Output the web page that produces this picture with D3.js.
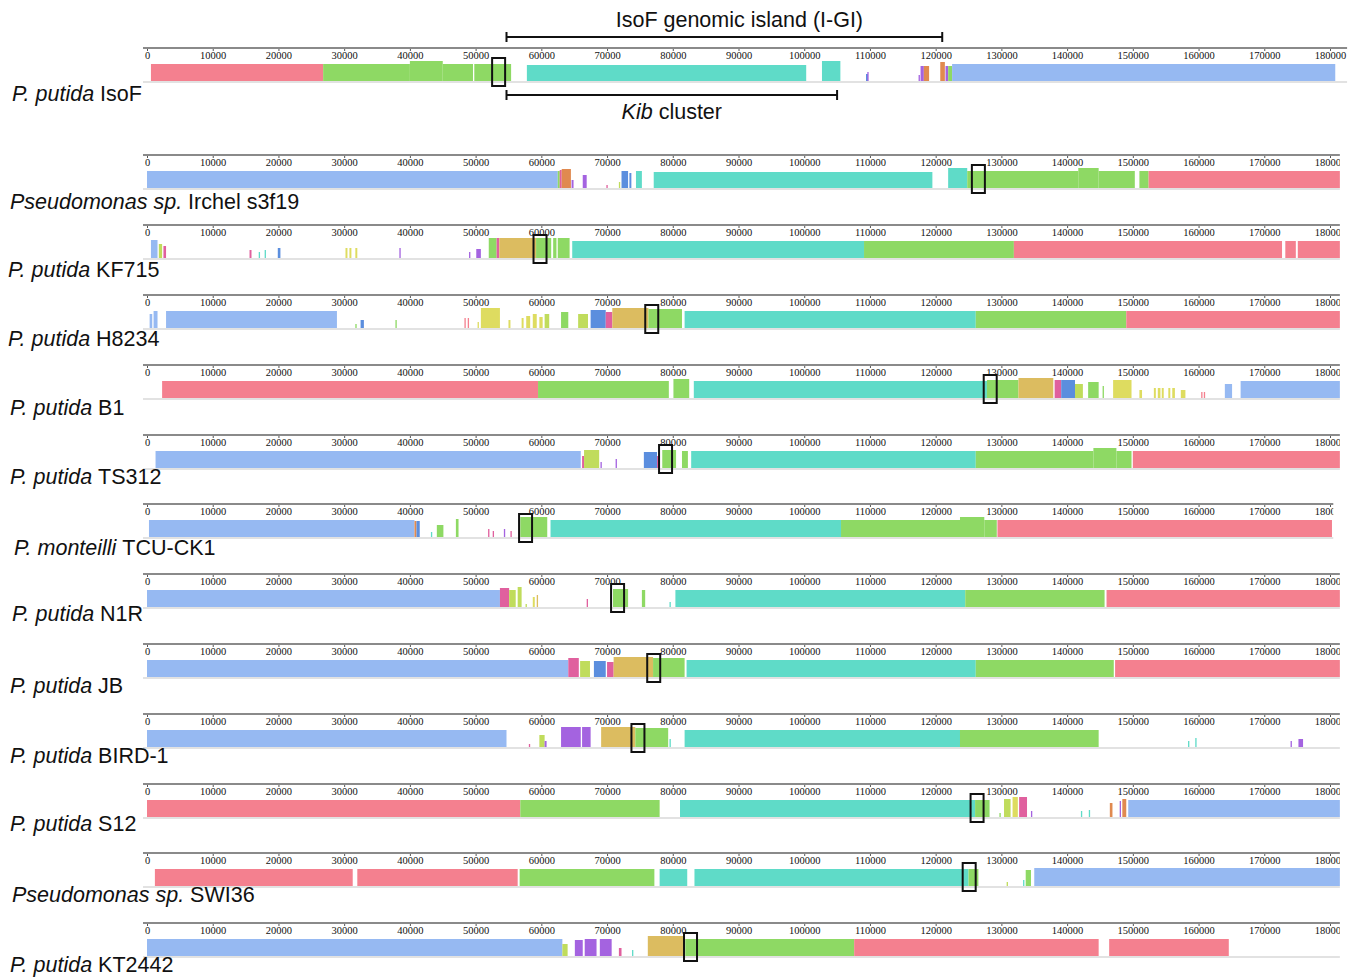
<!DOCTYPE html>
<meta charset="utf-8">
<script src="https://d3js.org/d3.v7.min.js"></script>
<style>
  body { margin: 0; background: #fff; }
  .tick text { font-family: "Liberation Serif", serif; font-size: 10.5px; fill: #111; }
  .tick line { stroke: #555; }
  .lab { font-family: "Liberation Sans", Arial, sans-serif; font-size: 21.5px; fill: #111; }
</style>
<body>
<div id="chart"></div>
<script>
// strain names: [italic part, plain part]
var strains = [
  ["P. putida", "IsoF"],
  ["Pseudomonas sp.", "Irchel s3f19"],
  ["P. putida", "KF715"],
  ["P. putida", "H8234"],
  ["P. putida", "B1"],
  ["P. putida", "TS312"],
  ["P. monteilli", "TCU-CK1"],
  ["P. putida", "N1R"],
  ["P. putida", "JB"],
  ["P. putida", "BIRD-1"],
  ["P. putida", "S12"],
  ["Pseudomonas sp.", "SWI36"],
  ["P. putida", "KT2442"]
];

// length shown of each sequence (bp)
var seqLength = [182600, 181500, 181500, 181500, 181500, 181500, 180500, 181500, 181500, 181500, 181500, 181500, 181500];

var tickValues = [0, 10000, 20000, 30000, 40000, 50000, 60000, 70000, 80000, 90000,
  100000, 110000, 120000, 130000, 140000, 150000, 160000, 170000, 180000];

// locally collinear blocks: [lcb, start, end, similarity]
var blocksIsoF = [
  ["r", 600, 26800, .85], ["g", 26800, 40000, .85], ["g", 40000, 45000, 1], ["g", 45000, 49600, .85],
  ["g", 49800, 55400, .85], ["t", 57800, 100300, .8], ["t", 102700, 105500, 1],
  ["d", 109400, 109700, .35], ["p", 109600, 109800, .45], ["p", 117400, 117600, .3],
  ["p", 117700, 118200, .75], ["o", 118200, 119000, .75], ["o", 120700, 121400, .95],
  ["p", 121500, 121900, .75], ["g", 121900, 122500, .75], ["b", 122500, 180800, .85]
];
var blocksIrchel = [
  ["b", 0, 62500, .85], ["g", 62500, 62800, .85], ["m", 62800, 63100, .9], ["o", 63100, 64500, .95],
  ["p", 64600, 64900, .4], ["p", 66300, 66900, .65], ["m", 69900, 70100, .15], ["l", 71800, 72000, .3],
  ["d", 72200, 73200, .85], ["d", 73400, 73700, .75], ["t", 74400, 75300, .85], ["t", 77100, 119500, .8],
  ["t", 121900, 124800, 1], ["g", 124800, 141700, .85], ["g", 141700, 144800, 1], ["g", 144800, 150300, .85],
  ["g", 151000, 152400, .85], ["r", 152400, 181500, .85]
];
var blocksKF715 = [
  ["b", 600, 1600, .9], ["l", 1800, 2300, .7], ["m", 2500, 2900, .6], ["m", 15600, 15900, .4],
  ["t", 17000, 17200, .3], ["t", 17900, 18100, .4], ["d", 19900, 20300, .5], ["y", 30200, 30500, .5],
  ["y", 30800, 31100, .5], ["y", 31700, 32000, .5], ["p", 38400, 38600, .5], ["p", 49000, 49200, .3],
  ["p", 50100, 50800, .45], ["g", 52000, 53200, 1], ["m", 53200, 53600, 1], ["n", 53600, 59200, 1],
  ["g", 59200, 61500, 1], ["g", 61800, 62300, 1], ["g", 62500, 64300, 1], ["t", 64700, 109100, .85],
  ["g", 109100, 131900, .85], ["r", 131900, 172700, .85], ["r", 173200, 174800, .85], ["r", 175100, 181500, .85]
];
var blocksH8234 = [
  ["b", 400, 800, .7], ["b", 1000, 1600, .85], ["b", 2900, 28900, .85], ["g", 31700, 31900, .2],
  ["d", 32500, 33000, .4], ["g", 37800, 38000, .4], ["r", 48300, 48500, .5], ["r", 48800, 49000, .5],
  ["y", 50300, 50500, .3], ["y", 50800, 53700, 1], ["y", 55000, 55300, .4], ["y", 57000, 57300, .5],
  ["y", 57700, 58300, .6], ["y", 58700, 59300, .7], ["y", 59700, 60200, .55], ["l", 60500, 61200, .7],
  ["g", 63000, 64100, .8], ["l", 65600, 67100, .7], ["d", 67500, 69800, .9], ["m", 69800, 70800, .8],
  ["n", 70800, 76300, 1], ["g", 76300, 81400, .95], ["t", 81800, 126100, .85], ["g", 126100, 149000, .85],
  ["r", 149000, 181500, .85]
];
var blocksB1 = [
  ["r", 2300, 59500, .85], ["g", 59500, 79400, .85], ["g", 80100, 82500, .95], ["t", 83200, 127800, .85],
  ["g", 127800, 132600, .9], ["n", 132600, 137900, 1], ["m", 138100, 139100, .9], ["d", 139100, 141200, .9],
  ["l", 141200, 142400, .7], ["g", 143200, 144800, .8], ["g", 145400, 145600, .6], ["y", 147000, 149800, .9],
  ["y", 151000, 151400, .4], ["y", 153200, 153500, .5], ["y", 153800, 154200, .5], ["y", 154400, 154700, .5],
  ["y", 155400, 155700, .5], ["y", 156000, 156400, .5], ["y", 157300, 158000, .4], ["r", 160400, 160600, .3],
  ["r", 160800, 161000, .3], ["b", 164000, 165100, .7], ["b", 166400, 181500, .85]
];
var blocksTS312 = [
  ["b", 1300, 66000, .85], ["m", 66200, 66500, .6], ["l", 66500, 68800, .9], ["p", 69000, 69200, .3],
  ["p", 71300, 71500, .45], ["d", 75600, 77600, .8], ["m", 77600, 78000, .6], ["g", 78400, 80500, .9],
  ["g", 81400, 82300, .85], ["t", 82800, 126100, .85], ["g", 126100, 144000, .85], ["g", 144000, 147500, 1],
  ["g", 147500, 149800, .85], ["r", 150000, 181500, .85]
];
var blocksTCU = [
  ["b", 300, 40700, .85], ["o", 40700, 41000, .8], ["d", 41000, 41500, .8], ["t", 43200, 43400, .25],
  ["g", 44100, 45100, .6], ["g", 47000, 47400, .9], ["m", 51900, 52100, .4], ["m", 52600, 52800, .3],
  ["p", 54300, 54500, .4], ["m", 55300, 55500, .3], ["g", 56800, 60900, 1], ["t", 61400, 105600, .85],
  ["g", 105600, 123700, .85], ["g", 123700, 127400, 1], ["g", 127400, 129300, .85], ["r", 129400, 180300, .85]
];
var blocksN1R = [
  ["b", 0, 53700, .85], ["m", 53700, 55100, .95], ["l", 55100, 56100, .85], ["l", 56400, 57000, 1],
  ["l", 57600, 57800, .15], ["y", 58700, 59000, .5], ["n", 59300, 59500, .6], ["m", 66900, 67100, .4],
  ["g", 70900, 73200, .9], ["g", 75300, 75800, .85], ["t", 79500, 79700, .25], ["t", 80400, 124500, .85],
  ["g", 124500, 145700, .85], ["r", 146000, 181500, .85]
];
var blocksJB = [
  ["b", 0, 64100, .85], ["m", 64100, 65700, .95], ["l", 65900, 67400, .8], ["d", 68000, 69800, .8],
  ["m", 70000, 71000, .75], ["n", 71000, 77000, 1], ["g", 77000, 81800, .95], ["t", 82100, 126100, .85],
  ["g", 126100, 147100, .85], ["r", 147300, 181500, .85]
];
var blocksBIRD = [
  ["b", 0, 54700, .85], ["m", 58100, 58300, .15], ["l", 59700, 60500, .6], ["p", 60500, 60800, .3],
  ["p", 63000, 66000, 1], ["p", 66200, 67500, 1], ["n", 69100, 74300, 1], ["g", 74300, 79300, .95],
  ["t", 79500, 79700, .4], ["t", 81800, 123700, .85], ["g", 123700, 144800, .85], ["t", 158400, 158600, .3],
  ["t", 159500, 159700, .45], ["p", 174000, 174200, .3], ["p", 175200, 175900, .4]
];
var blocksS12 = [
  ["r", 0, 56800, .85], ["g", 56800, 78000, .85], ["t", 81100, 126000, .85], ["g", 126000, 128200, .85],
  ["g", 129700, 129900, .2], ["l", 130400, 131400, .9], ["y", 131700, 132500, 1], ["m", 132700, 133900, 1],
  ["p", 134500, 134700, .3], ["t", 142100, 142300, .3], ["t", 143300, 143500, .35], ["o", 146500, 146900, .7],
  ["p", 148000, 148200, .8], ["o", 148400, 149000, .9], ["b", 149300, 181500, .85]
];
var blocksSWI36 = [
  ["r", 1200, 31300, .85], ["r", 32000, 56400, .85], ["g", 56700, 77200, .85], ["t", 78000, 82200, .85],
  ["t", 83300, 125000, .85], ["g", 125000, 126500, .85], ["l", 130800, 131000, .2], ["t", 133300, 133500, .3],
  ["g", 133700, 134500, .8], ["b", 135000, 181500, .9]
];
var blocksKT2442 = [
  ["b", 0, 63200, .85], ["l", 63200, 64000, .6], ["p", 65100, 66300, .8], ["p", 66600, 68400, .85],
  ["p", 68900, 70700, .85], ["m", 71800, 72200, .4], ["t", 73800, 74000, .3], ["n", 76200, 81800, 1],
  ["g", 81900, 107600, .85], ["r", 107600, 144800, .85], ["r", 146400, 164600, .85]
];
var blocks = [blocksIsoF, blocksIrchel, blocksKF715, blocksH8234, blocksB1, blocksTS312, blocksTCU,
  blocksN1R, blocksJB, blocksBIRD, blocksS12, blocksSWI36, blocksKT2442];

// position of the marked locus in each genome (bp)
var markerPos = [53500, 126500, 59800, 76800, 128300, 78900, 57600, 71600, 77100, 74700, 126300, 125100, 82700];

// annotated regions on the IsoF genome
var islandRange = [54700, 121000];
var kibRange = [54700, 105000];

// layout
var W = 1360, H = 977;
var trackY = [48, 155, 225, 295, 365, 435, 504, 574, 644, 714, 784, 853, 923];
var labelX = [12, 10, 8, 8, 10, 10, 14, 12, 10, 10, 10, 12, 10];
var labelY = [101, 209, 277, 346, 415, 484, 555, 621, 693, 763, 831, 902, 972];

var lcbs = ["r", "g", "t", "b", "n", "l", "y", "d", "m", "p", "o"];
var color = d3.scaleOrdinal()
  .domain(lcbs)
  .range(["#f4808f", "#8ed964", "#5fdbc8", "#96b9f2", "#dcbc60", "#c0dc5c",
          "#dedc60", "#5b8ede", "#e0609e", "#a463e0", "#e08a50"]);

var svg = d3.select("#chart").append("svg")
  .attr("width", W).attr("height", H)
  .style("background", "#fff");

var x = d3.scaleLinear().domain([0, 180000]).range([147, 1330]);
var bandH = 20;

strains.forEach(function(s, i) {
  var y0 = trackY[i];
  var xEnd = x(seqLength[i]);
  var g = svg.append("g");

  // clip in the ruler's own (translated) coordinates
  g.append("clipPath").attr("id", "clip" + i)
    .append("rect").attr("x", 138).attr("y", -6).attr("width", xEnd - 138).attr("height", 30);

  // baseline under the blocks
  g.append("line")
    .attr("x1", 143).attr("x2", xEnd)
    .attr("y1", y0 + 34).attr("y2", y0 + 34)
    .attr("stroke", "#e2e2e2").attr("stroke-width", 2);

  // blocks
  g.append("g").selectAll("rect")
    .data(blocks[i])
    .join("rect")
      .attr("x", function(d) { return x(d[1]); })
      .attr("width", function(d) { return Math.max(1, x(d[2]) - x(d[1])); })
      .attr("y", function(d) { return y0 + 33 - d[3] * bandH; })
      .attr("height", function(d) { return d[3] * bandH; })
      .attr("fill", function(d) { return color(d[0]); });

  // ruler
  var ax = g.append("g")
    .attr("transform", "translate(0," + y0 + ")")
    .attr("clip-path", "url(#clip" + i + ")")
    .call(d3.axisBottom(x).tickValues(tickValues).tickSize(3).tickPadding(1).tickFormat(d3.format("d")));
  ax.select(".domain").remove();
  g.append("line")
    .attr("x1", 143).attr("x2", xEnd)
    .attr("y1", y0).attr("y2", y0)
    .attr("stroke", "#8a8a8a").attr("stroke-width", 2);

  // marked locus
  g.append("rect")
    .attr("x", x(markerPos[i]) - 6.5).attr("y", y0 + 10)
    .attr("width", 13).attr("height", 28)
    .attr("fill", "none").attr("stroke", "#111").attr("stroke-width", 2);

  // strain label
  var t = g.append("text").attr("class", "lab")
    .attr("x", labelX[i]).attr("y", labelY[i]);
  t.append("tspan").style("font-style", "italic").text(s[0] + " ");
  t.append("tspan").text(s[1]);
});

// brackets over / under IsoF
function bracket(r, y) {
  var b = svg.append("g").attr("stroke", "#111").attr("stroke-width", 2);
  b.append("line").attr("x1", x(r[0])).attr("x2", x(r[1])).attr("y1", y).attr("y2", y);
  b.append("line").attr("x1", x(r[0])).attr("x2", x(r[0])).attr("y1", y - 5).attr("y2", y + 5);
  b.append("line").attr("x1", x(r[1])).attr("x2", x(r[1])).attr("y1", y - 5).attr("y2", y + 5);
}
bracket(islandRange, 37);
bracket(kibRange, 95);

svg.append("text").attr("class", "lab")
  .attr("x", (x(islandRange[0]) + x(islandRange[1])) / 2 + 15).attr("y", 27)
  .attr("text-anchor", "middle")
  .text("IsoF genomic island (I-GI)");

var kt = svg.append("text").attr("class", "lab")
  .attr("x", (x(kibRange[0]) + x(kibRange[1])) / 2).attr("y", 119)
  .attr("text-anchor", "middle");
kt.append("tspan").style("font-style", "italic").text("Kib");
kt.append("tspan").text(" cluster");
</script>
</body>
</html>
